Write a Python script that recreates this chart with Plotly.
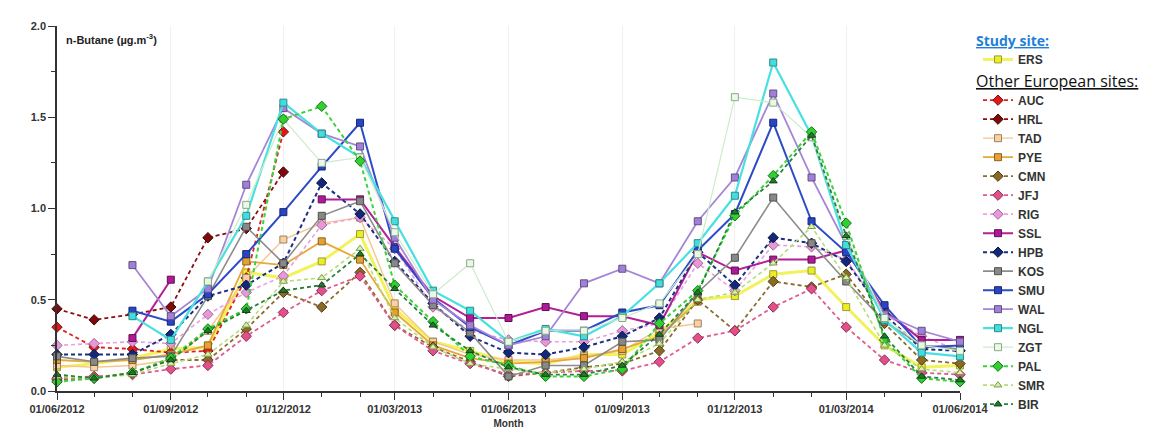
import plotly.graph_objects as go

months = ["2012-06-01", "2012-07-01", "2012-08-01", "2012-09-01", "2012-10-01", "2012-11-01",
          "2012-12-01", "2013-01-01", "2013-02-01", "2013-03-01", "2013-04-01", "2013-05-01",
          "2013-06-01", "2013-07-01", "2013-08-01", "2013-09-01", "2013-10-01", "2013-11-01",
          "2013-12-01", "2014-01-01", "2014-02-01", "2014-03-01", "2014-04-01", "2014-05-01",
          "2014-06-01"]
N = None
ERS = [0.13, 0.15, 0.18, 0.23, 0.24, 0.65, 0.62, 0.71, 0.86, 0.45, 0.27, 0.22, 0.16, 0.15, 0.20, 0.20, 0.32, 0.50, 0.52, 0.64, 0.66, 0.46, 0.25, 0.13, 0.14]
AUC = [0.35, 0.24, 0.23, 0.21, 0.22, 0.62, 1.42, N, N, N, N, N, N, N, N, N, N, N, N, N, N, N, N, N, N]
HRL = [0.45, 0.39, 0.42, 0.46, 0.84, 0.89, 1.20, N, N, N, N, N, N, N, N, N, N, N, N, N, N, N, N, N, N]
TAD = [0.14, 0.13, 0.14, 0.17, 0.33, 0.62, 0.83, 0.92, 0.95, 0.48, 0.27, 0.20, 0.17, 0.17, 0.19, 0.22, 0.34, 0.37, N, N, N, N, N, N, N]
PYE = [0.17, 0.16, 0.17, 0.20, 0.25, 0.71, 0.69, 0.82, 0.72, 0.43, 0.25, 0.18, 0.15, 0.16, 0.18, 0.23, 0.30, 0.49, N, N, N, N, N, N, N]
CMN = [0.06, 0.07, 0.10, 0.17, 0.17, 0.34, 0.54, 0.46, 0.65, 0.36, 0.24, 0.16, 0.08, 0.10, 0.13, 0.15, 0.22, 0.50, 0.33, 0.60, 0.57, 0.64, 0.37, 0.17, 0.15]
JFJ = [0.07, 0.08, 0.09, 0.12, 0.14, 0.30, 0.43, 0.55, 0.63, 0.36, 0.22, 0.15, 0.09, 0.10, 0.11, 0.11, 0.16, 0.29, 0.33, 0.46, 0.56, 0.35, 0.17, 0.10, 0.09]
RIG = [0.25, 0.26, 0.27, 0.26, 0.42, 0.54, 0.63, 0.91, 0.95, 0.78, 0.46, 0.33, 0.28, 0.27, 0.27, 0.33, 0.37, 0.70, 0.55, 0.80, 0.79, 0.72, 0.42, 0.30, 0.22]
SSL = [N, N, 0.29, 0.61, N, N, N, 1.05, 1.05, 0.79, 0.52, 0.40, 0.40, 0.46, 0.41, 0.41, 0.36, 0.76, 0.66, 0.72, 0.72, 0.77, 0.44, 0.28, 0.28]
HPB = [0.20, 0.20, 0.20, 0.31, 0.52, 0.58, 0.70, 1.14, 0.97, 0.71, 0.48, 0.30, 0.21, 0.20, 0.24, 0.30, 0.40, 0.76, 0.58, 0.84, 0.81, 0.71, 0.42, 0.23, 0.22]
KOS = [0.19, 0.16, 0.18, 0.19, 0.52, 0.90, 0.70, 0.96, 1.04, 0.70, 0.47, 0.32, 0.08, 0.14, 0.14, 0.27, 0.28, 0.54, 0.73, 1.06, 0.81, 0.60, 0.38, 0.25, 0.23]
SMU = [N, N, 0.44, 0.38, 0.53, 0.75, 0.98, 1.23, 1.47, 0.78, 0.51, 0.35, 0.25, 0.33, 0.33, 0.43, 0.47, 0.77, 0.97, 1.47, 0.93, 0.76, 0.47, 0.24, 0.25]
WAL = [N, N, 0.69, 0.41, 0.56, 1.13, 1.55, 1.41, 1.34, 0.84, 0.50, 0.36, 0.25, 0.30, 0.59, 0.67, 0.59, 0.93, 1.17, 1.63, 1.17, 0.80, 0.42, 0.33, 0.27]
NGL = [N, N, 0.41, 0.28, 0.60, 0.96, 1.58, 1.41, 1.28, 0.93, 0.55, 0.44, 0.27, 0.34, 0.30, 0.41, 0.59, 0.81, 1.07, 1.80, 1.40, 0.80, 0.39, 0.21, 0.19]
ZGT = [N, N, N, N, 0.60, 1.02, 1.49, 1.25, 1.28, 0.87, 0.53, 0.70, 0.27, 0.33, 0.33, 0.40, 0.48, 0.75, 1.61, 1.58, 1.39, 0.85, 0.40, 0.25, 0.22]
PAL = [0.05, 0.07, 0.10, 0.18, 0.34, 0.45, 1.49, 1.56, 1.26, 0.58, 0.38, 0.19, 0.14, 0.08, 0.08, 0.12, 0.37, 0.55, 0.96, 1.18, 1.42, 0.92, 0.28, 0.07, 0.05]
SMR = [0.08, 0.07, 0.09, 0.15, 0.20, 0.36, 0.60, 0.62, 0.78, 0.40, 0.24, 0.15, 0.12, 0.10, 0.12, 0.16, 0.26, 0.50, 0.54, 0.70, 0.90, 0.62, 0.25, 0.12, 0.10]
BIR = [0.09, 0.07, 0.10, 0.17, 0.33, 0.44, 0.55, 0.58, 0.75, 0.56, 0.36, 0.22, 0.13, 0.09, 0.09, 0.14, 0.31, 0.54, 0.98, 1.15, 1.40, 0.85, 0.30, 0.08, 0.06]

x_ticks = ["2012-06-01", "2012-09-01", "2012-12-01", "2013-03-01", "2013-06-01",
           "2013-09-01", "2013-12-01", "2014-03-01", "2014-06-01"]
x_ticklabels = ["01/06/2012", "01/09/2012", "01/12/2012", "01/03/2013", "01/06/2013",
                "01/09/2013", "01/12/2013", "01/03/2014", "01/06/2014"]
y_ticks = [0.0, 0.5, 1.0, 1.5, 2.0]

# name, data, line color, marker fill, marker outline, symbol, dashed, line width
styles = [
    ("ERS", ERS, "#f2f25a", "#eded20", "#9a9a40", "square", False, 3.0),
    ("AUC", AUC, "#e02020", "#e01818", "#7a1010", "diamond", True, 1.8),
    ("HRL", HRL, "#8a1010", "#7e0a0a", "#400808", "diamond", True, 1.8),
    ("TAD", TAD, "#f5c690", "#fad2a2", "#a08060", "square", False, 1.4),
    ("PYE", PYE, "#e7a73a", "#e8a030", "#8a6420", "square", False, 1.8),
    ("CMN", CMN, "#8c6c2c", "#8a6a24", "#4a3a18", "diamond", True, 1.8),
    ("JFJ", JFJ, "#e05a92", "#e2508c", "#8a3050", "diamond", True, 1.8),
    ("RIG", RIG, "#eaa0dc", "#e898d8", "#a06a98", "diamond", True, 1.6),
    ("SSL", SSL, "#b21f96", "#b0189a", "#601050", "square", False, 2.0),
    ("HPB", HPB, "#1c2f80", "#14287a", "#0a1440", "diamond", True, 2.0),
    ("KOS", KOS, "#8c8c8c", "#888888", "#505050", "square", False, 1.6),
    ("SMU", SMU, "#2d4ac8", "#2845c8", "#162870", "square", False, 2.0),
    ("WAL", WAL, "#a585d8", "#a080d8", "#605080", "square", False, 1.8),
    ("NGL", NGL, "#48e0e0", "#40dede", "#308a8a", "square", False, 2.2),
    ("ZGT", ZGT, "#cdeccb", "#eaf8e6", "#8aa888", "square", False, 1.2),
    ("PAL", PAL, "#3cd23c", "#30d030", "#1a701a", "diamond", True, 2.0),
    ("SMR", SMR, "#b6dc78", "#d8f0a8", "#7a9a50", "triangle-up", True, 1.6),
    ("BIR", BIR, "#28803a", "#207a2a", "#104018", "triangle-up", True, 1.8),
]

fig = go.Figure()
for name, vals, lc, mf, mo, sym, dashed, lw in styles:
    fig.add_trace(go.Scatter(
        x=months, y=vals, name="<b>" + name + "</b>", mode="lines+markers",
        connectgaps=False, cliponaxis=False,
        line=dict(color=lc, width=lw, dash="4px,3px" if dashed else "solid"),
        marker=dict(symbol=sym, size=7 if sym != "diamond" else 8, color=mf,
                    line=dict(color=mo, width=1)),
        legend="legend" if name == "ERS" else "legend2",
    ))

def py(ypx):
    return (383 - ypx) / 367.0

def px(xpx):
    return (xpx - 49) / 903.0

leg_common = dict(xanchor="left", yanchor="top", tracegroupgap=0,
                  font=dict(family="Liberation Sans, Arial", size=12, color="#333333"),
                  itemwidth=30, bgcolor="rgba(0,0,0,0)")

fig.update_layout(
    width=1170, height=433,
    margin=dict(l=49, r=218, t=16, b=50),
    paper_bgcolor="white", plot_bgcolor="white",
    font=dict(family="Liberation Sans, Arial, sans-serif", color="#333333"),
    showlegend=True,
    legend=dict(x=px(970), y=py(35), **leg_common),
    legend2=dict(x=px(970), y=py(76), **leg_common),
    xaxis=dict(
        type="date", range=["2012-06-01", "2014-06-01"],
        tickmode="array", tickvals=x_ticks, ticktext=["<b>" + t + "</b>" for t in x_ticklabels],
        tickfont=dict(size=11, color="#333333"),
        ticks="outside", ticklen=7, tickwidth=1.2, tickcolor="#333333",
        minor=dict(dtick="M1", tick0="2012-06-01", ticks="outside", ticklen=4,
                   tickcolor="#333333", showgrid=False),
        showline=True, linecolor="#333333", linewidth=1.5,
        showgrid=True, gridcolor="#f0f0f0", gridwidth=1,
        zeroline=False,
        title=dict(text="<b>Month</b>", font=dict(size=10, color="#333333"), standoff=6),
    ),
    yaxis=dict(
        range=[0, 2.0], tickvals=y_ticks,
        ticktext=["<b>%.1f</b>" % v for v in y_ticks],
        tickfont=dict(size=11, color="#333333"),
        ticks="outside", ticklen=7, tickwidth=1.2, tickcolor="#333333",
        minor=dict(dtick=0.25, tick0=0, ticks="outside", ticklen=4, tickcolor="#333333",
                   showgrid=False),
        showline=True, linecolor="#333333", linewidth=1.5,
        showgrid=False, zeroline=False,
    ),
    annotations=[
        dict(x=0.008, y=0.965, xref="paper", yref="paper", xanchor="left", yanchor="middle",
             text="<b>n-Butane (µg.m<sup>-3</sup>)</b>", showarrow=False,
             font=dict(size=11, color="#222222")),
        dict(x=px(966), y=py(31), xref="paper", yref="paper", xanchor="left", yanchor="middle",
             text="<b><u>Study site:</u></b>", showarrow=False,
             font=dict(family="Open Sans", size=14, color="#1f7fd8")),
        dict(x=px(966), y=py(71), xref="paper", yref="paper", xanchor="left", yanchor="middle",
             text="<u>Other European sites:</u>", showarrow=False,
             font=dict(family="Open Sans", size=16, color="#111111")),
    ],
)

fig.write_html("out.html")
